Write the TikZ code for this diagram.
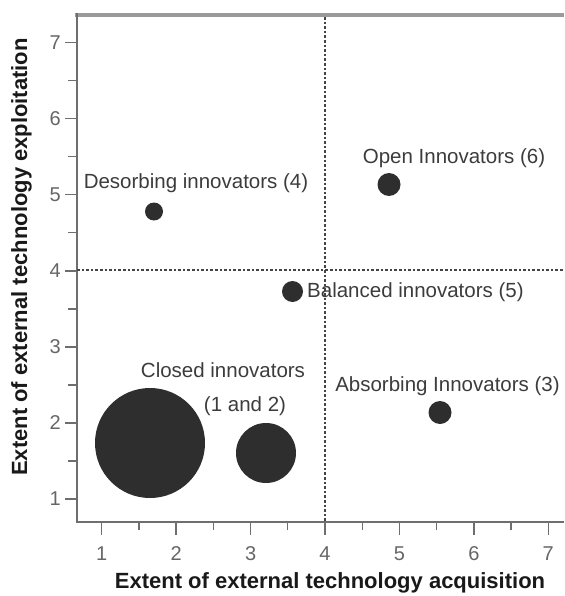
\documentclass[tikz,border=0pt]{standalone}
\usepackage{fontspec}
\setmainfont{Liberation Sans}
\definecolor{axisgray}{HTML}{6E6E6E}
\definecolor{topgray}{HTML}{9A9A9A}
\definecolor{dotgray}{HTML}{2E2E2E}
\definecolor{lblgray}{HTML}{3C3C3C}
\definecolor{ticklbl}{HTML}{666666}
\definecolor{dashgray}{HTML}{444444}
\tikzset{
  axisline/.style={draw=axisgray, line width=1.4pt},
  tickmark/.style={draw=axisgray, line width=1.3pt},
  quadline/.style={draw=dashgray, line width=1.3pt, dash pattern=on 2.6pt off 2pt},
  bubble/.style={circle, fill=dotgray, draw=none, inner sep=0pt},
  lbl/.style={font=\fontsize{20.5}{24}\selectfont, text=lblgray, inner sep=0pt, anchor=base},
  ticktext/.style={font=\fontsize{20}{24}\selectfont, text=ticklbl, inner sep=0pt},
  axistitle/.style={font=\fontsize{22}{26}\selectfont\bfseries, text=black!90, inner sep=0pt, anchor=base}
}
\begin{document}
\begin{tikzpicture}[x=1pt,y=-1pt]
\useasboundingbox (0,0) rectangle (564,596);
% frame
\coordinate (tl) at (77,15);
\coordinate (tr) at (564,15);
\coordinate (bl) at (77,522);
\coordinate (br) at (564,522);
\draw[draw=topgray, line width=4pt] (75,15) -- (tr);
\draw[axisline] (77,13) -- (bl) -- (br);
% ticks x
\foreach \v in {1,...,7} {
  \draw[tickmark] (27.27+74.43*\v,522) -- ++(0,13);
  \node[ticktext] (xt\v) at (27.27+74.43*\v,554) {\v};
}
\foreach \v in {1.5,2.5,...,6.5} {
  \draw[tickmark] (27.27+74.43*\v,522) -- ++(0,8);
}
\draw[tickmark] (27.27+74.43*7.5,522) -- ++(0,8);
% ticks y
\foreach \v in {1,...,7} {
  \draw[tickmark] (77,575.05-76.05*\v) -- ++(-12,0);
  \node[ticktext, anchor=east] (yt\v) at (61,575.05-76.05*\v) {\v};
}
\foreach \v in {1.5,2.5,...,6.5} {
  \draw[tickmark] (77,575.05-76.05*\v) -- ++(-9,0);
}
% quadrant lines
\coordinate (vtop) at (325,17);
\coordinate (vbot) at (325,522);
\coordinate (hl) at (77,270);
\coordinate (hr) at (564,270);
\draw[quadline] (vtop) -- (vbot);
\draw[quadline] (hl) -- (hr);
% bubbles
\node[bubble, minimum size=18pt] (d4) at (154,211.5) {};
\node[bubble, minimum size=21pt] (d5) at (292.5,291.5) {};
\node[bubble, minimum size=23pt] (d6) at (389,184.5) {};
\node[bubble, minimum size=23pt] (d3) at (440,412.5) {};
\node[bubble, minimum size=110pt] (d1) at (150,443) {};
\node[bubble, minimum size=60pt] (d2) at (266,453) {};
% labels
\node[lbl] (l4) at (196,188) {Desorbing innovators (4)};
\node[lbl] (l6) at (454,164) {Open Innovators (6)};
\node[lbl, anchor=base west] (l5) at (307,297) {Balanced innovators (5)};
\node[lbl] (l12a) at (223,377) {Closed innovators};
\node[lbl] (l12b) at (245,411) {(1 and 2)};
\node[lbl] (l3) at (447.5,391) {Absorbing Innovators (3)};
% axis titles
\node[axistitle] (xtitle) at (330,588) {Extent of external technology acquisition};
\node[axistitle, rotate=90] (ytitle) at (27,257) {Extent of external technology exploitation};
\end{tikzpicture}
\end{document}
